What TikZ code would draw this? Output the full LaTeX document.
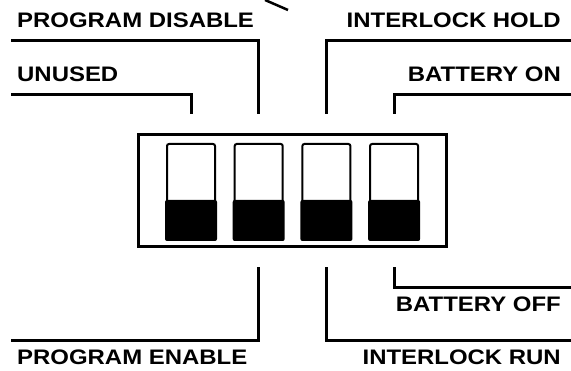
\documentclass[tikz,border=0pt]{standalone}
\usepackage{fontspec}
\usepackage{tikz}
\usetikzlibrary{positioning, calc}
\newfontfamily\lblfont{Liberation Sans}[FakeStretch=1.14]
\definecolor{myink}{RGB}{0,0,0}
\tikzset{
  lbl/.style={inner sep=0pt, text depth=0pt, text=myink,
    font=\lblfont\bfseries\fontsize{21pt}{21pt}\selectfont},
  leader/.style={line width=3pt, color=myink},
  casebox/.style={rectangle, draw=myink, line width=2.7pt,
    minimum width=308pt, minimum height=112pt, inner sep=0pt},
  switchbox/.style={rectangle, draw=myink, fill=white, line width=2pt,
    minimum width=48pt, minimum height=95pt, inner sep=0pt,
    rounded corners=2pt}
}
\begin{document}
\begin{tikzpicture}[x=1pt, y=1pt]
  \useasboundingbox (0,0) rectangle (571,371);

  \node[casebox] (case) at (292.5,180.5) {};

  \foreach \i in {1,...,4} {
    \node[switchbox] (sw\i) at ({191+67.7*(\i-1)},179.5) {};
    \fill[myink, rounded corners=2pt] ($(sw\i.south west)+(-1,-1)$)
      rectangle ($(sw\i.south east)+(1,40)$);
    \coordinate (sw\i-t) at ($(case.north -| sw\i)+(0,19)$);
    \coordinate (sw\i-b) at ($(case.south -| sw\i)+(0,-19)$);
  }

  % leaders above the case
  \coordinate (pdis-a) at (11,330);
  \coordinate (unused-a) at (11,276);
  \coordinate (ihold-a) at (571,330);
  \coordinate (bon-a) at (571,276);
  \draw[leader] (pdis-a) -| (sw2-t);
  \draw[leader] (unused-a) -| (sw1-t);
  \draw[leader] (ihold-a) -| (sw3-t);
  \draw[leader] (bon-a) -| (sw4-t);

  % leaders below the case
  \coordinate (pen-a) at (11,30);
  \coordinate (irun-a) at (571,30);
  \coordinate (boff-a) at (571,83);
  \draw[leader] (pen-a) -| (sw2-b);
  \draw[leader] (irun-a) -| (sw3-b);
  \draw[leader] (boff-a) -| (sw4-b);

  \coordinate (cut-a) at (265,371);
  \coordinate (cut-b) at (288,361);
  \draw[leader, line width=2.5pt] (cut-a) -- (cut-b);

  \node[lbl, above right=13pt and 6pt of pdis-a] (pdis) {PROGRAM DISABLE};
  \node[lbl, above right=13pt and 6pt of unused-a] (unused) {UNUSED};
  \node[lbl, above left=13pt and 10pt of ihold-a] (ihold) {INTERLOCK HOLD};
  \node[lbl, above left=13pt and 10pt of bon-a] (bon) {BATTERY ON};
  \node[lbl, below left=9pt and 10pt of boff-a] (boff) {BATTERY OFF};
  \node[lbl, below right=9pt and 6pt of pen-a] (pen) {PROGRAM ENABLE};
  \node[lbl, below left=9pt and 10pt of irun-a] (irun) {INTERLOCK RUN};
\end{tikzpicture}
\end{document}
